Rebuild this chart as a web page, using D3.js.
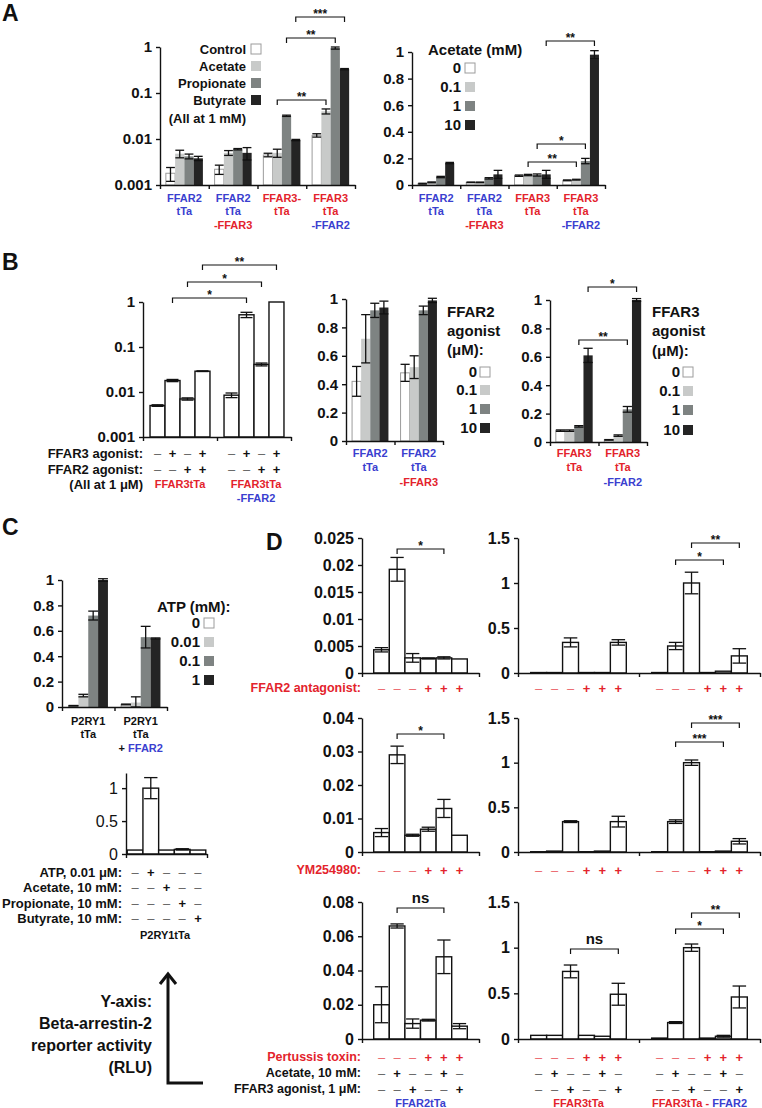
<!DOCTYPE html>
<html><head><meta charset="utf-8">
<script src="https://cdn.jsdelivr.net/npm/d3@7"></script>
<style>body{margin:0;background:#fff}svg{display:block}</style>
</head><body>
<svg id="fig" width="762" height="1108"></svg>
<script>
// ================= DATA =================
// Panel A (left: log scale, all at 1 mM)
const aLeftGroups = [["FFAR2","tTa"],["FFAR2","tTa","-FFAR3"],["FFAR3-","tTa"],["FFAR3","tTa","-FFAR2"]];
const aLeftSeries = ["Control","Acetate","Propionate","Butyrate"];
const aLeftNote = "(All at 1 mM)";
const aLeftTicks = [1,0.1,0.01,0.001];
const aLeftValues = [[0.0018,0.0048,0.0042,0.0038],[0.0022,0.005,0.006,0.005],[0.0045,0.005,0.032,0.0095],[0.012,0.04,0.95,0.33]];
const aLeftErrors = [[0.0006,0.0009,0.0005,0.0004],[0.0005,0.0006,0.0002,0.0015],[0.0004,0.001,0.001,0.0003],[0.001,0.005,0.05,0.01]];
// Panel A (right: acetate dose)
const aRightGroups = [["FFAR2","tTa"],["FFAR2","tTa","-FFAR3"],["FFAR3","tTa"],["FFAR3","tTa","-FFAR2"]];
const aRightTitle = "Acetate (mM)";
const aRightSeries = ["0","0.1","1","10"];
const aRightTicks = [0,0.2,0.4,0.6,0.8,1];
const aRightValues = [[0.01,0.02,0.06,0.165],[0.02,0.02,0.05,0.08],[0.07,0.075,0.075,0.08],[0.035,0.04,0.18,0.98]];
const aRightErrors = [[0.003,0.003,0.005,0.005],[0.002,0.002,0.005,0.03],[0.005,0.005,0.008,0.03],[0.003,0.003,0.02,0.03]];
// Panel B (left)
const bLeftGroups = [["FFAR3tTa"],["FFAR3tTa","-FFAR2"]];
const bLeftRows = ["FFAR3 agonist:","FFAR2 agonist:"];
const bLeftSigns = [["-","+","-","+","-","+","-","+"],["-","-","+","+","-","-","+","+"]];
const bLeftNote = "(All at 1 \u03bcM)";
const bLeftTicks = [1,0.1,0.01,0.001];
const bLeftValues = [[0.005,0.018,0.007,0.029],[0.0085,0.52,0.041,1.0]];
const bLeftErrors = [[0.0002,0.001,0.0004,0.0005],[0.001,0.07,0.003,0]];
// Panel B (middle: FFAR2 agonist)
const bMidGroups = [["FFAR2","tTa"],["FFAR2","tTa","-FFAR3"]];
const bMidTitle = ["FFAR2","agonist","(\u03bcM):"];
const bSeries = ["0","0.1","1","10"];
const bTicks = [0,0.2,0.4,0.6,0.8,1];
const bMidValues = [[0.42,0.72,0.92,0.94],[0.48,0.52,0.92,0.99]];
const bMidErrors = [[0.105,0.17,0.05,0.045],[0.06,0.08,0.03,0.015]];
// Panel B (right: FFAR3 agonist)
const bRightGroups = [["FFAR3","tTa"],["FFAR3","tTa","-FFAR2"]];
const bRightTitle = ["FFAR3","agonist","(\u03bcM):"];
const bRightValues = [[0.08,0.08,0.11,0.61],[0.015,0.045,0.23,1.0]];
const bRightErrors = [[0.005,0.005,0.005,0.05],[0.002,0.005,0.02,0.01]];
// Panel C (top: ATP dose)
const cGroups = [["P2RY1","tTa"],["P2RY1","tTa","+ FFAR2"]];
const cTitle = "ATP (mM):";
const cSeries = ["0","0.01","0.1","1"];
const cTicks = [0,0.2,0.4,0.6,0.8,1];
const cValues = [[0.01,0.09,0.72,1.0],[0.02,0.035,0.55,0.54]];
const cErrors = [[0.002,0.01,0.035,0.01],[0.003,0.045,0.085,0.004]];
// Panel C (bottom)
const c2Rows = ["ATP, 0.01 \u03bcM:","Acetate, 10 mM:","Propionate, 10 mM:","Butyrate, 10 mM:"];
const c2Signs = [["-","+","-","-","-"],["-","-","+","-","-"],["-","-","-","+","-"],["-","-","-","-","+"]];
const c2Group = "P2RY1tTa";
const c2Ticks = [0,0.5,1];
const c2Values = [[0.06,1.0,0.06,0.07,0.06]];
const c2Errors = [[0,0.16,0,0.01,0]];
const yNote = ["Y-axis:","Beta-arrestin-2","reporter activity","(RLU)"];
// Panel D
const dGroups = ["FFAR2tTa","FFAR3tTa","FFAR3tTa - FFAR2"];
const dTreatments = ["FFAR2 antagonist:","YM254980:","Pertussis toxin:"];
const dTreatSigns = ["-","-","-","+","+","+"];
const dStimRows = ["Acetate, 10 mM:","FFAR3 agonist, 1 \u03bcM:"];
const dStimSigns = [["-","+","-","-","+","-"],["-","-","+","-","-","+"]];
const d1LeftTicks = [0,0.005,0.01,0.015,0.02,0.025];
const d2LeftTicks = [0,0.01,0.02,0.03,0.04];
const d3LeftTicks = [0,0.02,0.04,0.06,0.08];
const dRightTicks = [0,0.5,1,1.5];
const d1LeftValues = [[0.0043,0.0192,0.0028,0.0027,0.0028,0.0026]];
const d1LeftErrors = [[0.0004,0.0022,0.0008,0.0001,0.0002,0]];
const d1RightValues = [[0.005,0.005,0.34,0.005,0.005,0.34],[0.005,0.30,1.0,0.005,0.02,0.19]];
const d1RightErrors = [[0,0,0.05,0,0,0.03],[0,0.04,0.12,0,0,0.08]];
const d2LeftValues = [[0.0058,0.029,0.005,0.0068,0.013,0.005]];
const d2LeftErrors = [[0.0012,0.0026,0.0003,0.0006,0.0027,0]];
const d2RightValues = [[0.003,0.01,0.34,0.003,0.01,0.34],[0.003,0.34,1.0,0.003,0.01,0.12]];
const d2RightErrors = [[0,0,0.01,0,0,0.06],[0,0.02,0.03,0,0,0.03]];
const d3LeftValues = [[0.020,0.066,0.009,0.011,0.048,0.0075]];
const d3LeftErrors = [[0.0105,0.0012,0.0027,0.0005,0.0098,0.0015]];
const d3RightValues = [[0.04,0.04,0.74,0.04,0.03,0.49],[0.01,0.18,1.0,0.01,0.03,0.46]];
const d3RightErrors = [[0,0,0.07,0,0,0.12],[0,0.01,0.04,0,0.01,0.12]];

// ================= STYLE =================
const FONT = "'Liberation Sans', Arial, Helvetica, sans-serif";
const BLUE = "#3a40cf", RED = "#e3232c", INK = "#111";
const SHADES = ["#ffffff","#c8cac9","#7e8382","#242424"];
const WHITE6 = d3.range(6).map(() => "#ffffff");
const svg = d3.select("#fig");
svg.append("rect").attr("width",762).attr("height",1108).attr("fill","#fff");

function txt(g, x, y, s, size, opts = {}) {
  return g.append("text").attr("x", x).attr("y", y).attr("dy", "0.35em")
    .attr("font-family", FONT).attr("font-size", size)
    .attr("font-weight", opts.weight || "bold")
    .attr("text-anchor", opts.anchor || "start")
    .attr("fill", opts.fill || INK).text(s);
}
function styleAxis(sel, size, weight) {
  sel.attr("font-family", FONT).attr("font-size", size || 15).attr("font-weight", weight || "bold");
  sel.select(".domain").attr("stroke", INK).attr("stroke-width", 1.4);
  sel.selectAll(".tick line").attr("stroke", INK).attr("stroke-width", 1.4);
  sel.selectAll(".tick text").attr("fill", INK);
}
function chart(o) {
  const g = svg.append("g");
  const n = o.values.length, k = o.values[0].length;
  const xg = d3.scaleBand().domain(d3.range(n)).range([o.x0, o.x1]);
  const inner = xg.bandwidth() * o.frac;
  const off = (xg.bandwidth() - inner) / 2;
  const xb = d3.scaleBand().domain(d3.range(k)).range([0, inner]);
  const bw = xb.bandwidth();
  const y = (o.log ? d3.scaleLog() : d3.scaleLinear()).domain(o.domain).range([o.yBot, o.yTop]);
  const base = o.domain[0];
  const cl = v => Math.max(v, base);
  const cx = (gi, bi) => xg(gi) + off + xb(bi) + bw / 2;
  o.values.forEach((grp, gi) => grp.forEach((v, bi) => {
    const fill = o.fills[bi];
    g.append("rect").attr("x", xg(gi) + off + xb(bi)).attr("y", y(cl(v)))
      .attr("width", bw).attr("height", o.yBot - y(cl(v)))
      .attr("fill", fill)
      .attr("stroke", o.outline ? INK : (fill === "#ffffff" ? "#9c9c9c" : "none"))
      .attr("stroke-width", o.outline ? 1.4 : 1);
  }));
  o.values.forEach((grp, gi) => grp.forEach((v, bi) => {
    const e = o.errors[gi][bi];
    if (!(e > 0)) return;
    const c = cx(gi, bi), h = bw * (o.cap || 0.9) / 2;
    const y1 = y(cl(v - e)), y2 = y(v + e);
    const eg = g.append("g").attr("stroke", INK).attr("stroke-width", 1.3);
    eg.append("line").attr("x1", c).attr("x2", c).attr("y1", y1).attr("y2", y2);
    [y1, y2].forEach(yy => eg.append("line").attr("x1", c - h).attr("x2", c + h).attr("y1", yy).attr("y2", yy));
  }));
  g.append("g").attr("transform", `translate(${o.x0},0)`)
    .call(d3.axisLeft(y).tickValues(o.ticks).tickFormat(d => String(d)).tickSize(4).tickSizeOuter(0).tickPadding(4))
    .call(styleAxis, o.tickSize || 15, o.tickWeight || "bold");
  const xl = d3.scaleLinear().domain([0, n]).range([o.x0, o.x1]);
  g.append("g").attr("transform", `translate(0,${o.yBot})`)
    .call(d3.axisBottom(xl).tickValues(d3.range(n + 1)).tickFormat("").tickSize(4).tickSizeOuter(0))
    .call(styleAxis);
  const centers = [];
  o.values.forEach((grp, gi) => grp.forEach((v, bi) => centers.push(cx(gi, bi))));
  return {g, cx, y, centers, gc: gi => xg(gi) + xg.bandwidth() / 2};
}
function tokColor(tok, prev) {
  if (/FFAR2/.test(tok)) return BLUE;
  if (/FFAR3/.test(tok)) return RED;
  if (tok === "-") return prev;
  return INK;
}
function catLabel(g, lines, x, y0, lh, size) {
  const gcol = tokColor(lines[0], INK);
  lines.forEach((line, li) => {
    const t = g.append("text").attr("x", x).attr("y", y0 + li * lh).attr("dy", "0.35em")
      .attr("text-anchor", "middle").attr("font-family", FONT).attr("font-size", size || 11).attr("font-weight", "bold");
    if (line === "tTa") { t.append("tspan").attr("fill", gcol).text(line); return; }
    let prev = INK;
    line.split(/(\s+)/).forEach(tok => {
      const c = /^\s+$/.test(tok) ? prev : tokColor(tok, prev);
      t.append("tspan").attr("fill", c).text(tok);
      prev = c;
    });
  });
}
function legend(g, o) {
  (o.title || []).forEach((s, i) => txt(g, o.tx, o.ty[i], s, o.titleSize || 15));
  o.labels.forEach((s, i) => {
    txt(g, o.lx, o.ly[i], s, o.size || 15, {anchor: "end"});
    g.append("rect").attr("x", o.sx).attr("y", o.ly[i] - 5).attr("width", 10).attr("height", 10)
      .attr("fill", SHADES[i]).attr("stroke", SHADES[i] === "#ffffff" ? "#9c9c9c" : "none");
  });
}
function signRow(g, label, lx, y, signs, xs, color, size) {
  if (label) txt(g, lx, y, label, size || 13, {anchor: "end", fill: color});
  signs.forEach((s, i) => {
    txt(g, xs[i], y, s === "+" ? "+" : "\u2013", 13, {anchor: "middle", fill: color,
      weight: s === "+" ? "bold" : "normal"}).attr("fill-opacity", s === "+" ? 1 : 0.7);
  });
}
function bracket(g, xa, xb, y, label) {
  g.append("path").attr("d", `M${xa},${y + 5}V${y}H${xb}V${y + 5}`)
    .attr("fill", "none").attr("stroke", INK).attr("stroke-width", 1.2);
  const ns = label === "ns";
  g.append("text").attr("x", (xa + xb) / 2).attr("y", ns ? y - 5 : y + 1)
    .attr("text-anchor", "middle").attr("font-family", FONT).attr("font-weight", "bold")
    .attr("font-size", ns ? 15 : 12).attr("fill", INK).text(label);
}
function panelLetter(s, x, y) {
  svg.append("text").attr("x", x).attr("y", y).attr("font-family", FONT).attr("font-weight", "bold")
    .attr("font-size", 23).attr("fill", INK).text(s);
}

// ================= PANEL A =================
panelLetter("A", 2, 21);
{
  const c = chart({x0: 160, x1: 355, yTop: 47, yBot: 185, log: true, domain: [0.001, 1], ticks: aLeftTicks,
    values: aLeftValues, errors: aLeftErrors, fills: SHADES, frac: 0.76, cap: 0.95});
  aLeftGroups.forEach((lines, gi) => catLabel(c.g, lines, c.gc(gi), 198, 13.5));
  legend(c.g, {labels: aLeftSeries, lx: 246, sx: 251, ly: [49, 66, 83, 100], size: 13});
  txt(c.g, 246, 118, aLeftNote, 13, {anchor: "end"});
  bracket(c.g, c.cx(2, 1), c.cx(3, 1), 100, "**");
  bracket(c.g, c.cx(2, 2), c.cx(3, 2), 38, "**");
  bracket(c.g, c.cx(2, 3), c.cx(3, 3), 17, "***");
}
{
  const c = chart({x0: 412, x1: 605, yTop: 52, yBot: 185, domain: [0, 1], ticks: aRightTicks,
    values: aRightValues, errors: aRightErrors, fills: SHADES, frac: 0.75, cap: 0.95});
  aRightGroups.forEach((lines, gi) => catLabel(c.g, lines, c.gc(gi), 198, 13.5));
  legend(c.g, {title: [aRightTitle], tx: 428, ty: [50], labels: aRightSeries, lx: 461, sx: 465, ly: [68, 87, 106, 125], size: 15});
  bracket(c.g, c.cx(2, 1), c.cx(3, 1), 162, "**");
  bracket(c.g, c.cx(2, 2), c.cx(3, 2), 144, "*");
  bracket(c.g, c.cx(2, 3), c.cx(3, 3), 41, "**");
}

// ================= PANEL B =================
panelLetter("B", 2, 270);
{
  const c = chart({x0: 143, x1: 291, yTop: 302, yBot: 437, log: true, domain: [0.001, 1], ticks: bLeftTicks,
    values: bLeftValues, errors: bLeftErrors, fills: ["#ffffff","#ffffff","#ffffff","#ffffff"], outline: true, frac: 0.81, cap: 0.8});
  bLeftRows.forEach((r, i) => signRow(c.g, r, 143, 453 + i * 16, bLeftSigns[i], c.centers, INK));
  txt(c.g, 143, 484, bLeftNote, 13, {anchor: "end"});
  bLeftGroups.forEach((lines, gi) => catLabel(c.g, lines, c.gc(gi) + (gi ? 2 : 0), 484, 14));
  bracket(c.g, c.cx(0, 1), c.cx(1, 1), 298, "*");
  bracket(c.g, c.cx(0, 2), c.cx(1, 2), 282, "*");
  bracket(c.g, c.cx(0, 3), c.cx(1, 3), 265, "**");
}
{
  const c = chart({x0: 346, x1: 443, yTop: 299, yBot: 441, domain: [0, 1], ticks: bTicks,
    values: bMidValues, errors: bMidErrors, fills: SHADES, frac: 0.75, cap: 1.0});
  bMidGroups.forEach((lines, gi) => catLabel(c.g, lines, c.gc(gi), 453, 14.5));
  legend(c.g, {title: bMidTitle, tx: 447, ty: [312, 331, 350], labels: bSeries, lx: 477, sx: 480, ly: [372, 390, 409, 428]});
}
{
  const c = chart({x0: 550, x1: 647, yTop: 300, yBot: 442, domain: [0, 1], ticks: bTicks,
    values: bRightValues, errors: bRightErrors, fills: SHADES, frac: 0.76, cap: 1.0});
  bRightGroups.forEach((lines, gi) => catLabel(c.g, lines, c.gc(gi), 453, 14.5));
  legend(c.g, {title: bRightTitle, tx: 652, ty: [312, 331, 351], labels: bSeries, lx: 680, sx: 683, ly: [372, 391, 410, 430]});
  bracket(c.g, c.cx(0, 2), c.cx(1, 2), 340, "**");
  bracket(c.g, c.cx(0, 3), c.cx(1, 3), 287, "*");
}

// ================= PANEL C =================
panelLetter("C", 2, 535);
{
  const c = chart({x0: 62, x1: 167, yTop: 580, yBot: 707, domain: [0, 1], ticks: cTicks,
    values: cValues, errors: cErrors, fills: SHADES, frac: 0.75, cap: 1.0});
  cGroups.forEach((lines, gi) => catLabel(c.g, lines, c.gc(gi), 721, 13.5));
  legend(c.g, {title: [cTitle], tx: 157, ty: [607], labels: cSeries, lx: 200, sx: 204, ly: [623, 642, 661, 680]});
}
{
  const c = chart({x0: 126, x1: 207, yTop: 773, yBot: 854, domain: [0, 1.23], ticks: c2Ticks,
    values: c2Values, errors: c2Errors, fills: ["#ffffff","#ffffff","#ffffff","#ffffff","#ffffff"], outline: true,
    frac: 0.97, cap: 0.85, tickSize: 16, tickWeight: "normal"});
  c2Rows.forEach((r, i) => signRow(c.g, r, 122, [872, 887, 903, 918][i], c2Signs[i], c.centers, INK));
  txt(c.g, 165, 935, c2Group, 11, {anchor: "middle"});
  yNote.forEach((s, i) => txt(c.g, 152, 1001 + i * 22, s, 16, {anchor: "end"}));
  c.g.append("path").attr("d", "M168,974V1083H203").attr("fill", "none").attr("stroke", INK).attr("stroke-width", 3);
  c.g.append("path").attr("d", "M160,984L168,974L176,984").attr("fill", "none").attr("stroke", INK).attr("stroke-width", 3);
}

// ================= PANEL D =================
panelLetter("D", 266, 550);
function dRow(spec) {
  const L = chart({x0: 362, x1: 479, yTop: spec.yTop, yBot: spec.yBot, domain: [0, spec.lmax], ticks: spec.lticks,
    values: spec.lv, errors: spec.le, fills: WHITE6, outline: true, frac: 0.8, cap: 0.85, tickSize: 16});
  const R = chart({x0: 518, x1: 760, yTop: spec.yTop, yBot: spec.yBot, domain: [0, 1.5], ticks: dRightTicks,
    values: spec.rv, errors: spec.re, fills: WHITE6, outline: true, frac: 0.79, cap: 0.85, tickSize: 16});
  return {L, R};
}
{
  const {L, R} = dRow({yTop: 538, yBot: 673, lmax: 0.025, lticks: d1LeftTicks, lv: d1LeftValues, le: d1LeftErrors, rv: d1RightValues, re: d1RightErrors});
  signRow(L.g, dTreatments[0], 361, 688, dTreatSigns, L.centers, RED, 12.5);
  signRow(R.g, null, 0, 688, dTreatSigns.concat(dTreatSigns), R.centers, RED);
  bracket(L.g, L.cx(0, 1), L.cx(0, 4), 549, "*");
  bracket(R.g, R.cx(1, 1), R.cx(1, 4), 560, "*");
  bracket(R.g, R.cx(1, 2), R.cx(1, 5), 543, "**");
}
{
  const {L, R} = dRow({yTop: 718, yBot: 852, lmax: 0.04, lticks: d2LeftTicks, lv: d2LeftValues, le: d2LeftErrors, rv: d2RightValues, re: d2RightErrors});
  signRow(L.g, dTreatments[1], 361, 870, dTreatSigns, L.centers, RED, 12.5);
  signRow(R.g, null, 0, 870, dTreatSigns.concat(dTreatSigns), R.centers, RED);
  bracket(L.g, L.cx(0, 1), L.cx(0, 4), 734, "*");
  bracket(R.g, R.cx(1, 1), R.cx(1, 4), 742, "***");
  bracket(R.g, R.cx(1, 2), R.cx(1, 5), 723, "***");
}
{
  const {L, R} = dRow({yTop: 902, yBot: 1039, lmax: 0.08, lticks: d3LeftTicks, lv: d3LeftValues, le: d3LeftErrors, rv: d3RightValues, re: d3RightErrors});
  signRow(L.g, dTreatments[2], 361, 1057, dTreatSigns, L.centers, RED, 12.5);
  signRow(R.g, null, 0, 1057, dTreatSigns.concat(dTreatSigns), R.centers, RED);
  dStimRows.forEach((r, i) => {
    signRow(L.g, r, 361, 1073 + i * 16, dStimSigns[i], L.centers, INK, 12.5);
    signRow(R.g, null, 0, 1073 + i * 16, dStimSigns[i].concat(dStimSigns[i]), R.centers, INK);
  });
  catLabel(L.g, [dGroups[0]], L.gc(0), 1103, 14);
  catLabel(R.g, [dGroups[1]], R.gc(0), 1103, 14);
  catLabel(R.g, [dGroups[2]], R.gc(1), 1103, 14);
  bracket(L.g, L.cx(0, 1), L.cx(0, 4), 908, "ns");
  bracket(R.g, R.cx(0, 2), R.cx(0, 5), 949, "ns");
  bracket(R.g, R.cx(1, 1), R.cx(1, 4), 929, "*");
  bracket(R.g, R.cx(1, 2), R.cx(1, 5), 913, "**");
}
</script>
</body></html>
